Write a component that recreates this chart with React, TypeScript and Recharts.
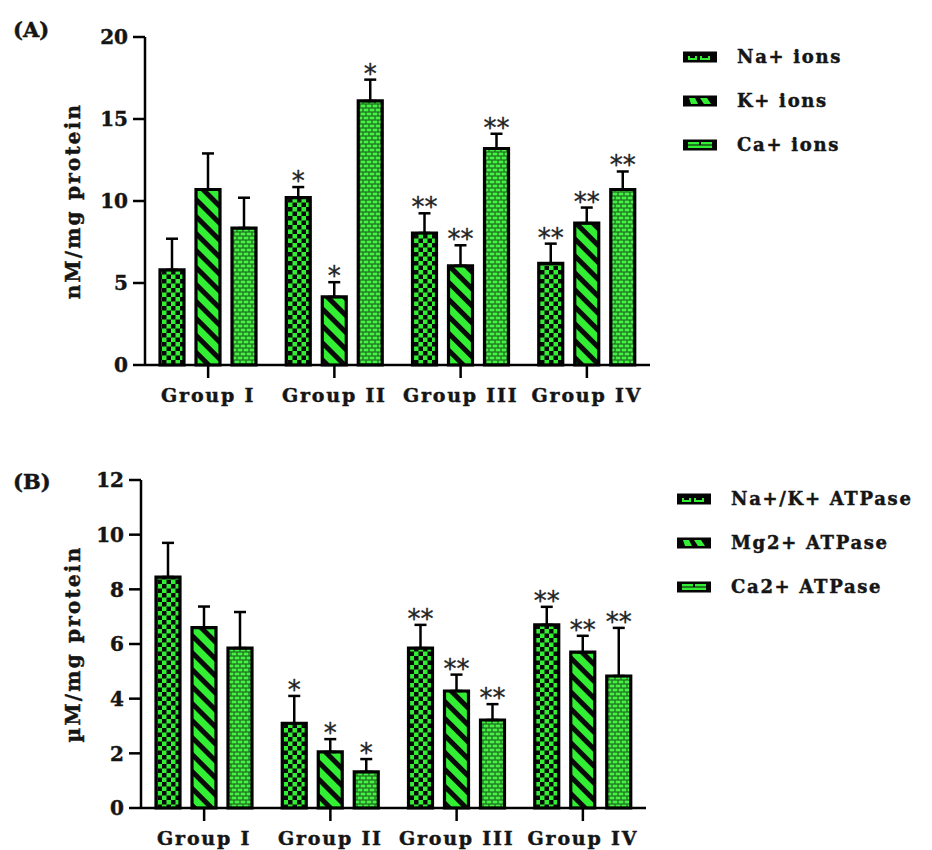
import { BarChart, Bar, XAxis, YAxis, ErrorBar, LabelList } from 'recharts'

const groups = ['Group I', 'Group II', 'Group III', 'Group IV']

// (A) ions, nM/mg protein
const naIons = [5.8, 10.2, 8.05, 6.2]
const naIonsErr = [1.9, 0.65, 1.2, 1.2]
const kIons = [10.7, 4.15, 6.05, 8.65]
const kIonsErr = [2.2, 0.9, 1.25, 0.95]
const caIons = [8.35, 16.1, 13.2, 10.7]
const caIonsErr = [1.85, 1.3, 0.9, 1.1]
const ionMarks = ['', '*', '**', '**']
const ionTicks = [0, 5, 10, 15, 20]
const ionNames = ['Na+ ions', 'K+ ions', 'Ca+ ions']

// (B) ATPases, µM/mg protein
const naKAtpase = [8.45, 3.1, 5.85, 6.7]
const naKAtpaseErr = [1.25, 1.0, 0.85, 0.66]
const mgAtpase = [6.6, 2.05, 4.28, 5.7]
const mgAtpaseErr = [0.77, 0.47, 0.6, 0.6]
const caAtpase = [5.85, 1.32, 3.22, 4.83]
const caAtpaseErr = [1.32, 0.47, 0.58, 1.76]
const atpaseMarks = ['', '*', '**', '**']
const atpaseTicks = [0, 2, 4, 6, 8, 10, 12]
const atpaseNames = ['Na+/K+ ATPase', 'Mg2+ ATPase', 'Ca2+ ATPase']

const FONT = 'DejaVu Serif'
const INK = '#151515'
const GREEN = '#33ef33'
const patterns = ['checker', 'stripes', 'bricks']

const buildData = (a: number[], ae: number[], b: number[], be: number[], c: number[], ce: number[]) =>
  groups.map((name, i) => ({
    name,
    s0: a[i],
    s0e: [0, ae[i]],
    s1: b[i],
    s1e: [0, be[i]],
    s2: c[i],
    s2e: [0, ce[i]]
  }))

const ionData = buildData(naIons, naIonsErr, kIons, kIonsErr, caIons, caIonsErr)
const atpaseData = buildData(naKAtpase, naKAtpaseErr, mgAtpase, mgAtpaseErr, caAtpase, caAtpaseErr)

// heavier look for the bold serif text
const textInk = { fill: INK, stroke: INK, strokeWidth: 0.45, fontFamily: FONT, fontWeight: 'bold' as const }

const Patterns = () => (
  <svg width={0} height={0} style={{ position: 'absolute' }}>
    <defs>
      <pattern id="checker" width={9} height={9} patternUnits="userSpaceOnUse">
        <rect width={9} height={9} fill={GREEN} />
        <rect width={4.5} height={4.5} fill="#0a0a0a" />
        <rect x={4.5} y={4.5} width={4.5} height={4.5} fill="#0a0a0a" />
      </pattern>
      <pattern id="stripes" width={12} height={12} patternUnits="userSpaceOnUse" patternTransform="rotate(-45)">
        <rect width={12} height={12} fill="#0a0a0a" />
        <rect width={7} height={12} fill={GREEN} />
      </pattern>
      <pattern id="bricks" width={12} height={8} patternUnits="userSpaceOnUse">
        <rect width={12} height={8} fill="#1f6a1f" />
        <rect x={0.6} y={0.6} width={4.8} height={2.8} fill="#44f244" />
        <rect x={6.6} y={0.6} width={4.8} height={2.8} fill="#44f244" />
        <rect x={-2.4} y={4.6} width={4.8} height={2.8} fill="#44f244" />
        <rect x={3.6} y={4.6} width={4.8} height={2.8} fill="#44f244" />
        <rect x={9.6} y={4.6} width={4.8} height={2.8} fill="#44f244" />
      </pattern>
    </defs>
  </svg>
)

const YTick = (props: any) => {
  const { x, y, payload } = props
  return (
    <text x={x} y={y} dy="0.36em" textAnchor="end" {...textInk} fontSize={20}>
      {payload.value}
    </text>
  )
}

const XTick = (props: any) => {
  const { x, y, payload } = props
  return (
    <text x={x} y={y} dy="0.71em" textAnchor="middle" {...textInk} fontSize={19} letterSpacing={1.8}>
      {payload.value}
    </text>
  )
}

const YTitle = (props: any) => {
  const vb = props.viewBox || {}
  const cx = vb.x + 73
  const cy = vb.y + vb.height / 2
  return (
    <text x={cx} y={cy} transform={`rotate(-90, ${cx}, ${cy})`} textAnchor="middle" dy="0.36em"
      {...textInk} fontSize={20} letterSpacing={2.2}>
      {props.text}
    </text>
  )
}

const makeStars = (errs: number[], marks: string[]) => (p: any) => {
  const vb = p.viewBox || p
  const { x, y, width, height } = vb
  const mark = marks[p.index]
  if (!mark || !p.value) return null
  const ratio = height / p.value
  const top = y - errs[p.index] * ratio
  return (
    <text x={x + width / 2} y={top + 3} textAnchor="middle" fill="#222" stroke="#222" strokeWidth={0.3}
      fontFamily="DejaVu Sans" fontSize={26}>
      {mark}
    </text>
  )
}

interface PanelProps {
  data: any[]
  errs: number[][]
  marks: string[]
  ticks: number[]
  title: string
  top: number
  height: number
  marginTop: number
  axisHeight: number
  left: number
  right: number
}

const Panel = ({ data, errs, marks, ticks, title, top, height, marginTop, axisHeight, left, right }: PanelProps) => (
  <div style={{ position: 'absolute', left: 0, top }}>
    <BarChart width={932} height={height} data={data} barSize={24} barGap={12}
      margin={{ top: marginTop, right: 932 - right, bottom: 0, left: 0 }}>
      <XAxis dataKey="name" height={axisHeight} tick={<XTick />} tickSize={13} tickMargin={11}
        axisLine={{ stroke: '#000', strokeWidth: 2.5 }} tickLine={{ stroke: '#000', strokeWidth: 2.5 }} />
      <YAxis width={left} domain={[ticks[0], ticks[ticks.length - 1]]} ticks={ticks} interval={0}
        tick={<YTick />} tickSize={12} tickMargin={5}
        axisLine={{ stroke: '#000', strokeWidth: 2.5 }} tickLine={{ stroke: '#000', strokeWidth: 2.5 }}
        label={<YTitle text={title} />} />
      {[0, 1, 2].map((k) => (
        <Bar key={k} dataKey={`s${k}`} fill={`url(#${patterns[k]})`} stroke="#000" strokeWidth={3.2} isAnimationActive={false}>
          <ErrorBar dataKey={`s${k}e`} width={6} strokeWidth={2.5} stroke="#000" direction="y" />
          <LabelList dataKey={`s${k}`} content={makeStars(errs[k], marks)} />
        </Bar>
      ))}
    </BarChart>
  </div>
)

const Swatch = ({ kind, x, y }: { kind: number, x: number, y: number }) => (
  <g>
    <rect x={x} y={y - 5.5} width={34} height={11} fill="#050505" />
    {kind === 0 && (
      <path d={`M${x + 6} ${y - 1} v3 h7 v-3 M${x + 18} ${y - 1} v3 h8 v-3`} stroke={GREEN} strokeWidth={2} fill="none" />
    )}
    {kind === 1 && (
      <g fill={GREEN}>
        <polygon points={`${x + 6},${y - 3} ${x + 12},${y - 3} ${x + 15},${y + 3} ${x + 8},${y + 3}`} />
        <polygon points={`${x + 17},${y - 3} ${x + 24},${y - 3} ${x + 28},${y + 3} ${x + 21},${y + 3}`} />
      </g>
    )}
    {kind === 2 && (
      <g fill={GREEN}>
        <rect x={x + 5} y={y - 3} width={11} height={2.5} />
        <rect x={x + 18} y={y - 3} width={11} height={2.5} />
        <rect x={x + 5} y={y + 0.5} width={24} height={2.5} />
      </g>
    )}
  </g>
)

const LegendBlock = ({ names, x, ys }: { names: string[], x: number, ys: number[] }) => (
  <g>
    {names.map((n, i) => (
      <g key={n}>
        <Swatch kind={i} x={x} y={ys[i]} />
        <text x={x + 54} y={ys[i]} dy="0.36em" {...textInk} fontSize={18} letterSpacing={1.7}>
          {n}
        </text>
      </g>
    ))}
  </g>
)

const App = () => (
  <div style={{ position: 'absolute', left: 0, top: 0, width: 932, height: 850, background: '#fff' }}>
    <Patterns />
    <Panel data={ionData} errs={[naIonsErr, kIonsErr, caIonsErr]} marks={ionMarks} ticks={ionTicks}
      title="nM/mg protein" top={0} height={425} marginTop={37} axisHeight={60} left={145} right={650} />
    <Panel data={atpaseData} errs={[naKAtpaseErr, mgAtpaseErr, caAtpaseErr]} marks={atpaseMarks} ticks={atpaseTicks}
      title="µM/mg protein" top={440} height={410} marginTop={40} axisHeight={42} left={141} right={646} />
    <svg width={932} height={850} style={{ position: 'absolute', left: 0, top: 0, pointerEvents: 'none' }}>
      <text x={13} y={37} {...textInk} fontSize={21}>(A)</text>
      <text x={13} y={489} {...textInk} fontSize={21}>(B)</text>
      <LegendBlock names={ionNames} x={683} ys={[57, 101, 145]} />
      <LegendBlock names={atpaseNames} x={677} ys={[499, 543, 587]} />
    </svg>
  </div>
)

export default App
